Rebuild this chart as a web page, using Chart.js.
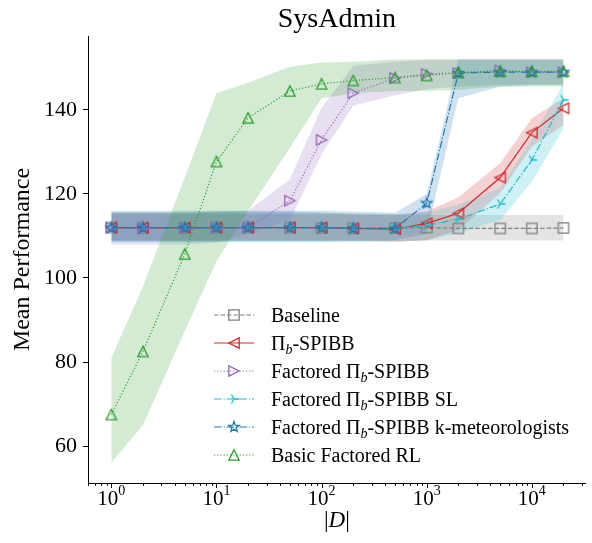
<!DOCTYPE html>
<html lang="en">
  <head>
    <meta charset="UTF-8" />
    <title>SysAdmin</title>
    <script src="https://cdn.jsdelivr.net/npm/chart.js"></script>
    <style>
      body { margin: 0; background: #fff; }
      #wrap { width: 592px; height: 543px; }
    </style>
  </head>
  <body>
    <div id="wrap"><canvas id="chart"></canvas></div>
    <script>
      // dataset sizes |D|
      var sizes = [1, 2, 5, 10, 20, 50, 100, 200, 500, 1000, 2000, 5000, 10000, 20000];
      var yTicks = [60, 80, 100, 120, 140];
      var xTicks = [0, 1, 2, 3, 4]; // decades

      var baselineMean = [112, 111.9, 111.9, 112, 112, 112, 111.9, 111.8, 111.9, 112, 111.8, 111.8, 111.8, 111.9];
      var baselineLow = [108.8, 108.8, 108.8, 108.8, 108.8, 108.8, 108.8, 108.8, 108.8, 108.9, 108.9, 108.9, 108.9, 108.9];
      var baselineHigh = [115.2, 115.2, 115.2, 115.2, 115.2, 115.2, 115.2, 115.1, 115.1, 115, 115, 115, 115, 115];

      var spibbMean = [112, 112, 112, 112, 112, 112, 112, 111.8, 111.6, 113, 115.4, 123.9, 134.6, 140.4];
      var spibbLow = [109, 109, 109, 109, 109, 109, 109, 109, 108.6, 109, 111.4, 120.2, 131.3, 136.4];
      var spibbHigh = [115.5, 115.5, 115.5, 115.5, 115.5, 115.5, 115.5, 115.2, 115, 115.8, 119.2, 127.3, 138, 142.8];

      var factMean = [112, 111.8, 111.8, 111.9, 112, 118.4, 132.9, 144, 147.6, 148.6, 148.8, 149.4, 149, 149];
      var factLow = [108, 108, 108, 108.4, 110.5, 113.8, 129.5, 141, 143.5, 145, 145.5, 146, 146, 146];
      var factHigh = [115.6, 115.6, 115.6, 115.8, 116, 123.5, 140.5, 150.5, 151.5, 152, 152, 152, 152, 152];

      var slMean = [112, 112, 112, 112, 112, 112, 112, 111.8, 111.8, 112.5, 114, 117.6, 128.1, 142.4];
      var slLow = [108.6, 108.6, 108.6, 108.6, 108.6, 108.6, 108.6, 108.6, 108.6, 109, 110.7, 113.8, 122.9, 135.6];
      var slHigh = [115.6, 115.6, 115.6, 115.8, 115.8, 115.8, 115.6, 115.4, 115.2, 115.6, 117.5, 121.5, 133, 146.3];

      var kmetMean = [112, 112, 112, 112, 112, 112, 112, 111.8, 111.8, 117.8, 148.8, 149, 149, 149];
      var kmetLow = [108.6, 108.6, 108.6, 108.6, 108.6, 108.6, 108.6, 108.8, 109, 110.5, 142.8, 145.5, 146, 146];
      var kmetHigh = [116, 116, 116, 116, 116, 116, 116, 115.8, 115.5, 120, 152, 152, 152, 152];

      var basicMean = [67.5, 82.5, 105.7, 127.7, 138.1, 144.5, 146.2, 147, 147.7, 148.2, 148.9, 149.2, 149.2, 149.2];
      var basicLow = [56, 65, 87.4, 104, 116, 131, 142.8, 144, 144.5, 144.5, 144.8, 145.5, 145.5, 145.5];
      var basicHigh = [81, 98, 124, 144, 146.5, 150.3, 151.3, 151.5, 152, 152, 152, 152, 152, 152];

      var labels = [
        "Baseline",
        "Π_b-SPIBB",
        "Factored Π_b-SPIBB",
        "Factored Π_b-SPIBB SL",
        "Factored Π_b-SPIBB k-meteorologists",
        "Basic Factored RL",
      ];

      var serif = "'Liberation Serif', 'Times New Roman', serif";

      var series = [
        { color: "#7f7f7f", dash: [4.5, 2], marker: "square", mean: baselineMean, low: baselineLow, high: baselineHigh },
        { color: "#d62728", dash: [], marker: "tri-left", mean: spibbMean, low: spibbLow, high: spibbHigh },
        { color: "#9467bd", dash: [1.2, 2], marker: "tri-right", mean: factMean, low: factLow, high: factHigh },
        { color: "#17becf", dash: [7.5, 2, 1.2, 2], marker: "y-right", mean: slMean, low: slLow, high: slHigh },
        { color: "#1f77b4", dash: [7.5, 2, 1.2, 2], marker: "star", mean: kmetMean, low: kmetLow, high: kmetHigh },
        { color: "#2ca02c", dash: [1.2, 2], marker: "tri-up", mean: basicMean, low: basicLow, high: basicHigh },
      ];

      function hexAlpha(hex, a) {
        var n = parseInt(hex.slice(1), 16);
        return "rgba(" + (n >> 16) + "," + ((n >> 8) & 255) + "," + (n & 255) + "," + a + ")";
      }

      function markerPath(g, kind, cx, cy, r) {
        g.beginPath();
        if (kind === "square") {
          g.rect(cx - r, cy - r, 2 * r, 2 * r);
        } else if (kind === "tri-up") {
          g.moveTo(cx, cy - r); g.lineTo(cx + r, cy + r); g.lineTo(cx - r, cy + r); g.closePath();
        } else if (kind === "tri-left") {
          g.moveTo(cx - r, cy); g.lineTo(cx + r, cy - r); g.lineTo(cx + r, cy + r); g.closePath();
        } else if (kind === "tri-right") {
          g.moveTo(cx + r, cy); g.lineTo(cx - r, cy - r); g.lineTo(cx - r, cy + r); g.closePath();
        } else if (kind === "y-right") {
          g.moveTo(cx, cy); g.lineTo(cx + r, cy);
          g.moveTo(cx, cy); g.lineTo(cx - r / 2, cy - r * 0.866);
          g.moveTo(cx, cy); g.lineTo(cx - r / 2, cy + r * 0.866);
        } else if (kind === "star") {
          for (var k = 0; k < 10; k++) {
            var rr = k % 2 === 0 ? r * 1.05 : r * 0.42;
            var a = -Math.PI / 2 + (k * Math.PI) / 5;
            var px = cx + rr * Math.cos(a), py = cy + rr * Math.sin(a);
            if (k === 0) g.moveTo(px, py); else g.lineTo(px, py);
          }
          g.closePath();
        }
      }

      function makeMarker(kind, color) {
        var c = document.createElement("canvas");
        c.width = 16; c.height = 16;
        var g = c.getContext("2d");
        g.strokeStyle = color;
        g.lineWidth = 1.3;
        markerPath(g, kind, 8, 8, 5.2);
        g.stroke();
        return c;
      }

      function toPoints(arr) {
        return sizes.map(function (x, i) { return { x: x, y: arr[i] }; });
      }

      // bands: the filler paints the highest order first, so the last series ends on top
      var datasets = [];
      series.forEach(function (s, i) {
        datasets.push({
          data: toPoints(s.high),
          borderWidth: 0,
          borderColor: "transparent",
          pointRadius: 0,
          backgroundColor: hexAlpha(s.color, 0.21),
          fill: "+1",
          order: 200 - i,
        });
        datasets.push({
          data: toPoints(s.low),
          borderWidth: 0,
          borderColor: "transparent",
          pointRadius: 0,
          fill: false,
          order: 200 - i,
        });
      });
      series.forEach(function (s, i) {
        s.img = makeMarker(s.marker, s.color);
        datasets.push({
          data: toPoints(s.mean),
          borderColor: s.color,
          borderWidth: 1.2,
          borderDash: s.dash,
          pointStyle: s.img,
          pointRadius: 5,
          fill: false,
          tension: 0,
          order: 10 - i,
        });
      });

      function drawRich(g, text, x, y, size) {
        // "_b" becomes an italic subscript b
        var parts = text.split("_b");
        g.textAlign = "left";
        g.font = size + "px " + serif;
        g.fillText(parts[0], x, y);
        var wa = g.measureText(parts[0]).width;
        if (parts.length > 1) {
          g.font = "italic " + Math.round(size * 0.7) + "px " + serif;
          g.fillText("b", x + wa, y + size * 0.2);
          var wb = g.measureText("b").width;
          g.font = size + "px " + serif;
          g.fillText(parts[1], x + wa + wb, y);
        }
      }

      var decorations = {
        id: "decorations",
        afterDraw: function (chart) {
          var g = chart.ctx;
          var xs = chart.scales.x;
          var area = chart.chartArea;
          var midX = (area.left + area.right) / 2;
          g.save();
          g.fillStyle = "#000";
          g.strokeStyle = "#000";
          g.lineWidth = 1;
          g.textBaseline = "alphabetic";

          // x ticks, major and minor
          for (var d = -1; d <= 4; d++) {
            for (var m = 1; m <= 9; m++) {
              var v = m * Math.pow(10, d);
              if (v < xs.min || v > xs.max) continue;
              var px = Math.round(xs.getPixelForValue(v)) + 0.5;
              var len = m === 1 ? 5 : 2.8;
              g.beginPath();
              g.moveTo(px, area.bottom);
              g.lineTo(px, area.bottom + len);
              g.stroke();
            }
          }
          xTicks.forEach(function (e) {
            var px = xs.getPixelForValue(Math.pow(10, e));
            g.font = "21px " + serif;
            var w1 = g.measureText("10").width;
            g.font = "14px " + serif;
            var w2 = g.measureText(String(e)).width;
            var sx = px - (w1 + w2) / 2;
            g.textAlign = "left";
            g.font = "21px " + serif;
            g.fillText("10", sx, 505);
            g.font = "14px " + serif;
            g.fillText(String(e), sx + w1, 495);
          });

          // x label |D|
          g.font = "23px " + serif;
          var wbar = g.measureText("|").width;
          g.font = "italic 23px " + serif;
          var wd = g.measureText("D").width;
          var lx = midX - (2 * wbar + wd) / 2;
          g.font = "23px " + serif;
          g.fillText("|", lx, 527);
          g.font = "italic 23px " + serif;
          g.fillText("D", lx + wbar, 527);
          g.font = "23px " + serif;
          g.fillText("|", lx + wbar + wd, 527);

          // title
          g.textAlign = "center";
          g.font = "28px " + serif;
          g.fillText("SysAdmin", midX, 27);

          // y label
          g.save();
          g.translate(23, (area.top + area.bottom) / 2);
          g.rotate(-Math.PI / 2);
          g.textAlign = "center";
          g.textBaseline = "middle";
          g.font = "24px " + serif;
          g.fillText("Mean Performance", 0, 0);
          g.restore();

          // legend
          series.forEach(function (s, i) {
            var ry = 315 + i * 28;
            g.save();
            g.strokeStyle = s.color;
            g.lineWidth = 1.2;
            g.setLineDash(s.dash);
            g.beginPath();
            g.moveTo(214, ry);
            g.lineTo(254, ry);
            g.stroke();
            g.restore();
            g.drawImage(s.img, 234 - 8, ry - 8);
            g.fillStyle = "#000";
            g.textBaseline = "alphabetic";
            drawRich(g, labels[i], 271, ry + 7, 20);
          });
          g.restore();
        },
      };

      new Chart(document.getElementById("chart"), {
        type: "line",
        data: { datasets: datasets },
        plugins: [decorations],
        options: {
          responsive: true,
          maintainAspectRatio: false,
          animation: false,
          layout: { padding: { left: 0, top: 36, right: 4, bottom: 0 } },
          plugins: {
            legend: { display: false },
            tooltip: { enabled: false },
            filler: { drawTime: "beforeDatasetsDraw" },
          },
          scales: {
            x: {
              type: "logarithmic",
              min: 0.606,
              max: 32600,
              ticks: { display: false },
              grid: { display: false },
              border: { display: true, color: "#000", width: 1 },
              afterFit: function (s) { s.height = 60; },
            },
            y: {
              min: 51.2,
              max: 157.6,
              afterBuildTicks: function (s) {
                s.ticks = yTicks.map(function (v) { return { value: v }; });
              },
              ticks: {
                color: "#000",
                padding: 6,
                font: { family: serif, size: 22 },
              },
              grid: { drawOnChartArea: false, drawTicks: true, tickLength: 5, color: "#000" },
              border: { display: true, color: "#000", width: 1 },
              afterFit: function (s) { s.width = 88; },
            },
          },
        },
      });
    </script>
  </body>
</html>
